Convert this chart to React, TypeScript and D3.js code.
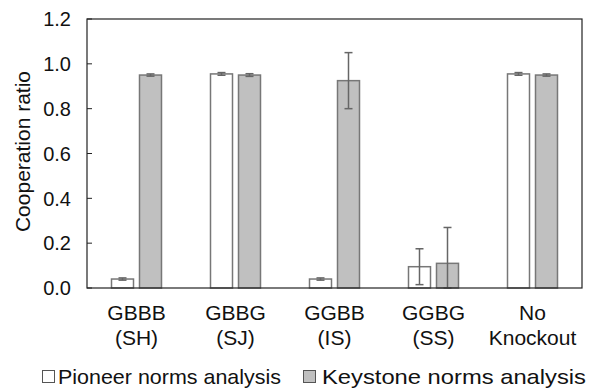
import React from "react";
import * as d3 from "d3";

const categories = [["GBBB", "(SH)"], ["GBBG", "(SJ)"], ["GGBB", "(IS)"], ["GGBG", "(SS)"], ["No", "Knockout"]];
const pioneerValues = [0.04, 0.955, 0.04, 0.095, 0.955];
const pioneerErrors = [0.005, 0.006, 0.005, 0.08, 0.006];
const keystoneValues = [0.95, 0.95, 0.925, 0.11, 0.95];
const keystoneErrors = [0.005, 0.006, 0.125, 0.16, 0.005];
const yTicks = [0, 0.2, 0.4, 0.6, 0.8, 1.0, 1.2];
const seriesNames = ["Pioneer norms analysis", "Keystone norms analysis"];

const W = 590, H = 388;
const left = 87, right = 582, top = 19, bottom = 288;
const font = "'Liberation Sans', Arial, sans-serif";

export default function App() {
  const x = d3.scaleBand<number>().domain(d3.range(categories.length)).range([left, right]);
  const y = d3.scaleLinear().domain([0, 1.2]).range([bottom, top]);
  const barW = 22, gap = 6;
  const series = [
    { vals: pioneerValues, errs: pioneerErrors, fill: "#ffffff", off: -gap / 2 - barW },
    { vals: keystoneValues, errs: keystoneErrors, fill: "#c0c0c0", off: gap / 2 },
  ];
  return (
    <svg width={W} height={H} style={{ position: "absolute", left: 0, top: 0, background: "#fff" }} fontFamily={font}>
      {series.map((s, si) =>
        s.vals.map((v, i) => {
          const cx = x(i)! + x.bandwidth() / 2;
          const bx = cx + s.off;
          const mx = bx + barW / 2;
          const hi = y(v + s.errs[i]);
          const lo = y(Math.max(0, v - s.errs[i]));
          return (
            <g key={si + "-" + i}>
              <rect x={bx} y={y(v)} width={barW} height={bottom - y(v)} fill={s.fill} stroke="#777" strokeWidth={1.5} />
              <line x1={mx} x2={mx} y1={hi} y2={lo} stroke="#666" strokeWidth={1.5} />
              <line x1={mx - 4} x2={mx + 4} y1={hi} y2={hi} stroke="#666" strokeWidth={1.5} />
              <line x1={mx - 4} x2={mx + 4} y1={lo} y2={lo} stroke="#666" strokeWidth={1.5} />
            </g>
          );
        })
      )}
      <rect x={left} y={top} width={right - left} height={bottom - top} fill="none" stroke="#222" strokeWidth={1.2} />
      {yTicks.map((t) => (
        <g key={t}>
          <line x1={left} x2={left + 5} y1={y(t)} y2={y(t)} stroke="#222" strokeWidth={1} />
          <text x={71} y={y(t)} dy="0.36em" textAnchor="end" fontSize={20} fill="#111">
            {t.toFixed(1)}
          </text>
        </g>
      ))}
      {categories.map((c, i) => (
        <text key={i} textAnchor="middle" fontSize={21} fill="#111">
          <tspan x={x(i)! + x.bandwidth() / 2} y={320}>{c[0]}</tspan>
          <tspan x={x(i)! + x.bandwidth() / 2} y={345}>{c[1]}</tspan>
        </text>
      ))}
      <text transform={`translate(30,${151.5}) rotate(-90)`} textAnchor="middle" fontSize={21} fill="#111">
        Cooperation ratio
      </text>
      <g>
        <rect x={42.5} y={370.5} width={12} height={12} fill="#fff" stroke="#555" strokeWidth={1} />
        <text x={58} y={384} fontSize={21} fill="#111" textLength={223} lengthAdjust="spacingAndGlyphs">{seriesNames[0]}</text>
        <rect x={303.5} y={370.5} width={12} height={12} fill="#c0c0c0" stroke="#555" strokeWidth={1} />
        <text x={322} y={384} fontSize={21} fill="#111" textLength={264} lengthAdjust="spacingAndGlyphs">{seriesNames[1]}</text>
      </g>
    </svg>
  );
}
